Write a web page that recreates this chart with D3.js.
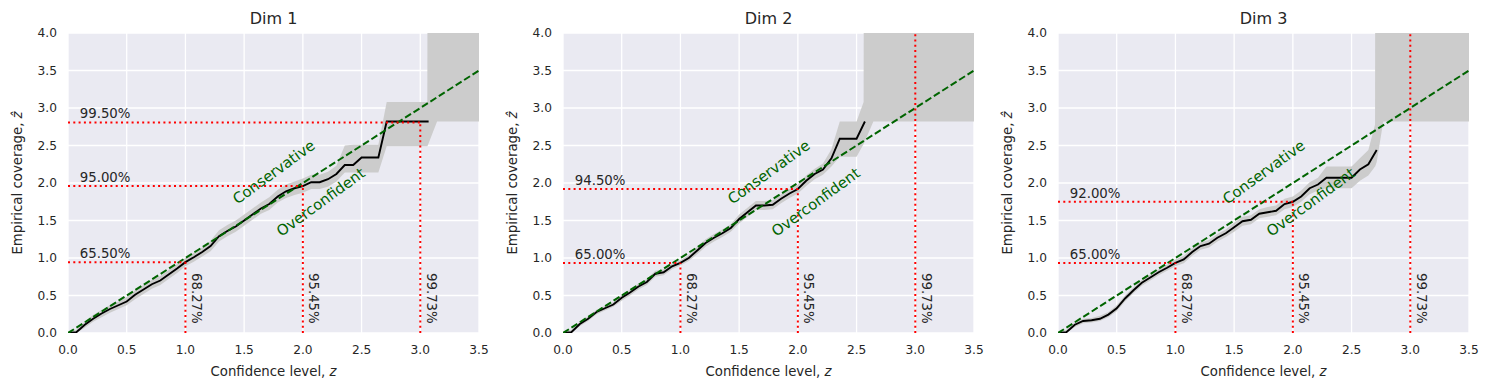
<!DOCTYPE html>
<html><head><meta charset="utf-8">
<script src="https://cdn.jsdelivr.net/npm/d3@7"></script>
<style>body{margin:0;background:#fff} text{font-family:"DejaVu Sans",sans-serif}</style>
</head><body><svg id="c" width="1489" height="390"></svg>
<script>
const panelTitles = ["Dim 1", "Dim 2", "Dim 3"];
const xTicks = [0, 0.5, 1, 1.5, 2, 2.5, 3, 3.5];
const yTicks = [0, 0.5, 1, 1.5, 2, 2.5, 3, 3.5, 4];
const confLevels = [0.000, 0.071, 0.143, 0.214, 0.286, 0.357, 0.429, 0.500, 0.571, 0.643,
  0.714, 0.786, 0.857, 0.929, 1.000, 1.071, 1.143, 1.214, 1.286, 1.357,
  1.429, 1.500, 1.571, 1.643, 1.714, 1.786, 1.857, 1.929, 2.000, 2.071,
  2.143, 2.214, 2.286, 2.357, 2.429, 2.500, 2.571, 2.643, 2.714, 2.786,
  2.857, 2.929, 3.000, 3.071, 3.143, 3.214, 3.286, 3.357, 3.429, 3.500];

// empirical coverage curves
const cov1 = [0, 0.01, 0.11, 0.19, 0.26, 0.32, 0.37, 0.42, 0.51, 0.58, 0.65, 0.70, 0.78, 0.86, 0.945,
  1.01, 1.08, 1.16, 1.29, 1.36, 1.42, 1.50, 1.58, 1.66, 1.72, 1.82, 1.89, 1.93, 1.96, 2.01,
  2.01, 2.05, 2.12, 2.24, 2.24, 2.34, 2.34, 2.34, 2.82, 2.82, 2.82, 2.82, 2.82, 2.82];
const cov2 = [0, 0.01, 0.12, 0.19, 0.28, 0.33, 0.38, 0.47, 0.54, 0.62, 0.68, 0.79, 0.81, 0.89, 0.935,
  1.00, 1.10, 1.20, 1.27, 1.33, 1.40, 1.52, 1.61, 1.70, 1.70, 1.71, 1.79, 1.86, 1.92, 2.03,
  2.12, 2.18, 2.33, 2.59, 2.59, 2.59, 2.82];
const cov3 = [0, 0.01, 0.11, 0.16, 0.17, 0.19, 0.245, 0.33, 0.46, 0.57, 0.67, 0.74, 0.81, 0.87, 0.935,
  0.98, 1.08, 1.16, 1.19, 1.27, 1.33, 1.41, 1.49, 1.51, 1.59, 1.61, 1.63, 1.72, 1.75, 1.82,
  1.93, 1.98, 2.07, 2.07, 2.07, 2.07, 2.18, 2.25, 2.44];

// uncertainty bands
const bandX1 = confLevels.slice(0, 43).concat([3.06, 3.061, 3.143, 3.5]);
const bandLo1 = [0, 0, 0.07, 0.15, 0.21, 0.27, 0.32, 0.37, 0.45, 0.52, 0.59, 0.64, 0.72, 0.80, 0.89,
  0.95, 1.02, 1.09, 1.22, 1.29, 1.35, 1.43, 1.51, 1.59, 1.64, 1.74, 1.80, 1.84, 1.87, 1.92,
  1.92, 1.95, 2.02, 2.14, 2.14, 2.14, 2.14, 2.14,
  2.49, 2.49, 2.49, 2.49, 2.49, 2.49, 2.49, 2.82, 2.82];
const bandHi1 = [0.02, 0.04, 0.15, 0.24, 0.31, 0.37, 0.42, 0.48, 0.57, 0.64, 0.71, 0.76, 0.84, 0.92, 1.00,
  1.07, 1.14, 1.23, 1.37, 1.44, 1.50, 1.58, 1.66, 1.74, 1.81, 1.91, 1.98, 2.02, 2.06, 2.11,
  2.11, 2.15, 2.23, 2.50, 2.51, 2.51, 2.51, 2.51,
  3.08, 3.08, 3.08, 3.08, 3.08, 3.08, 4.2, 4.2, 4.2];
const bandX2 = confLevels.slice(0, 36).concat([2.56, 2.561, 2.643, 3.5]);
const bandLo2 = [0, 0, 0.09, 0.16, 0.25, 0.30, 0.35, 0.43, 0.50, 0.58, 0.64, 0.75, 0.77, 0.85, 0.90,
  0.96, 1.05, 1.15, 1.22, 1.28, 1.35, 1.46, 1.55, 1.64, 1.64, 1.65, 1.73, 1.80, 1.86, 1.96,
  2.05, 2.11, 2.22, 2.35, 2.35, 2.35,
  2.52, 2.52, 2.82, 2.82];
const bandHi2 = [0.02, 0.04, 0.15, 0.22, 0.31, 0.36, 0.41, 0.51, 0.58, 0.66, 0.72, 0.83, 0.85, 0.93, 0.97,
  1.04, 1.15, 1.25, 1.32, 1.38, 1.45, 1.58, 1.67, 1.76, 1.76, 1.77, 1.85, 1.92, 1.98, 2.10,
  2.19, 2.26, 2.45, 2.82, 2.82, 2.82,
  3.08, 4.2, 4.2, 4.2];
const bandX3 = confLevels.slice(0, 38).concat([2.70, 2.701, 2.714, 2.77, 3.5]);
const bandLo3 = [0, 0, 0.08, 0.13, 0.14, 0.16, 0.21, 0.29, 0.42, 0.53, 0.63, 0.70, 0.77, 0.83, 0.89,
  0.93, 1.03, 1.11, 1.14, 1.22, 1.28, 1.35, 1.43, 1.45, 1.53, 1.55, 1.57, 1.65, 1.68, 1.75,
  1.85, 1.90, 1.93, 1.93, 1.93, 1.93, 2.03, 2.10,
  2.22, 2.22, 2.28, 2.82, 2.82];
const bandHi3 = [0.02, 0.04, 0.14, 0.19, 0.20, 0.23, 0.28, 0.37, 0.50, 0.61, 0.71, 0.78, 0.85, 0.91, 0.98,
  1.03, 1.13, 1.21, 1.24, 1.32, 1.38, 1.47, 1.55, 1.57, 1.65, 1.68, 1.70, 1.79, 1.82, 1.90,
  2.01, 2.07, 2.22, 2.22, 2.22, 2.22, 2.33, 2.44,
  2.78, 4.2, 4.2, 4.2, 4.2];

// reference levels
const refZ = [1, 2, 3];
const refLabels = ["68.27%", "95.45%", "99.73%"];
const hitZ1 = [0.9446, 1.96, 2.807];
const hitLabels1 = ["65.50%", "95.00%", "99.50%"];
const hitZ2 = [0.9346, 1.919, Infinity];
const hitLabels2 = ["65.00%", "94.50%", ""];
const hitZ3 = [0.9346, 1.7507, Infinity];
const hitLabels3 = ["65.00%", "92.00%", ""];
const diagonal = [0, 3.5];

const panels = [
  {title: panelTitles[0], cov: cov1, bx: bandX1, lo: bandLo1, hi: bandHi1, hit: hitZ1, hitLab: hitLabels1},
  {title: panelTitles[1], cov: cov2, bx: bandX2, lo: bandLo2, hi: bandHi2, hit: hitZ2, hitLab: hitLabels2},
  {title: panelTitles[2], cov: cov3, bx: bandX3, lo: bandLo3, hi: bandHi3, hit: hitZ3, hitLab: hitLabels3}
];

const svg = d3.select("#c");
const W = 411, topY = 33, H = 300;
const lefts = [68, 563, 1058];
const textCol = "#262626";

panels.forEach((p, i) => {
  const g = svg.append("g").attr("transform", `translate(${lefts[i]},${topY})`);
  const x = d3.scaleLinear().domain([0, 3.5]).range([0, W]);
  const y = d3.scaleLinear().domain([0, 4]).range([H, 0]);
  const cid = "clip" + i;
  g.append("clipPath").attr("id", cid).append("rect").attr("width", W).attr("height", H);
  g.append("rect").attr("width", W).attr("height", H).attr("fill", "#eaeaf2");
  // grid
  g.selectAll(".gx").data(xTicks).join("line").attr("x1", d => x(d)).attr("x2", d => x(d))
    .attr("y1", 0).attr("y2", H).attr("stroke", "#fff").attr("stroke-width", 1.3);
  g.selectAll(".gy").data(yTicks).join("line").attr("y1", d => y(d)).attr("y2", d => y(d))
    .attr("x1", 0).attr("x2", W).attr("stroke", "#fff").attr("stroke-width", 1.3);
  const plot = g.append("g").attr("clip-path", `url(#${cid})`);
  // band
  const bandData = p.bx.map((v, j) => [v, p.lo[j], p.hi[j]]);
  plot.append("path").datum(bandData)
    .attr("d", d3.area().x(d => x(d[0])).y0(d => y(d[1])).y1(d => y(d[2])))
    .attr("fill", "#cccccc");
  // curve
  const curve = p.cov.map((v, j) => [confLevels[j], v]);
  plot.append("path").datum(curve)
    .attr("d", d3.line().x(d => x(d[0])).y(d => y(d[1])))
    .attr("fill", "none").attr("stroke", "#000").attr("stroke-width", 1.9);
  // diagonal
  plot.append("line").attr("x1", x(diagonal[0])).attr("y1", y(diagonal[0]))
    .attr("x2", x(diagonal[1])).attr("y2", y(diagonal[1]))
    .attr("stroke", "#006400").attr("stroke-width", 2).attr("stroke-dasharray", "7,3");
  // red reference lines
  refZ.forEach((rz, j) => {
    const hz = p.hit[j];
    const yv = isFinite(hz) ? hz : 4;
    plot.append("line").attr("x1", x(rz)).attr("x2", x(rz)).attr("y1", y(0)).attr("y2", y(yv))
      .attr("stroke", "red").attr("stroke-width", 2).attr("stroke-dasharray", "2,3.3");
    if (isFinite(hz)) {
      plot.append("line").attr("x1", x(0)).attr("x2", x(rz)).attr("y1", y(hz)).attr("y2", y(hz))
        .attr("stroke", "red").attr("stroke-width", 2).attr("stroke-dasharray", "2,3.3");
      g.append("text").attr("x", x(0.1)).attr("y", y(hz) - 4).attr("font-size", 13.3)
        .attr("fill", textCol).text(p.hitLab[j]);
    }
    g.append("text").attr("transform", `translate(${x(rz) + 6.5},${y(0.8)}) rotate(90)`)
      .attr("font-size", 13.3).attr("fill", textCol).text(refLabels[j]);
  });
  // region labels
  g.append("text").attr("transform", `translate(${x(1.75)},${y(2.15)}) rotate(-36)`)
    .attr("text-anchor", "middle").attr("dominant-baseline", "central")
    .attr("font-size", 14.8).attr("fill", "#006400").text("Conservative");
  g.append("text").attr("transform", `translate(${x(2.15)},${y(1.75)}) rotate(-36)`)
    .attr("text-anchor", "middle").attr("dominant-baseline", "central")
    .attr("font-size", 14.8).attr("fill", "#006400").text("Overconfident");
  // tick labels
  g.selectAll(".xt").data(xTicks).join("text").attr("x", d => x(d)).attr("y", H + 21)
    .attr("text-anchor", "middle").attr("font-size", 12.2).attr("fill", textCol)
    .text(d => d.toFixed(1));
  g.selectAll(".yt").data(yTicks).join("text").attr("x", -11).attr("y", d => y(d))
    .attr("text-anchor", "end").attr("dominant-baseline", "central").attr("font-size", 12.2)
    .attr("fill", textCol).text(d => d.toFixed(1));
  // titles and axis labels
  g.append("text").attr("x", W / 2).attr("y", -9).attr("text-anchor", "middle")
    .attr("font-size", 16).attr("fill", textCol).text(p.title);
  const xl = g.append("text").attr("x", W / 2).attr("y", H + 43).attr("text-anchor", "middle")
    .attr("font-size", 13.3).attr("fill", textCol);
  xl.append("tspan").text("Confidence level, ");
  xl.append("tspan").attr("font-style", "italic").text("z");
  const yl = g.append("text").attr("transform", `translate(-46,${H / 2}) rotate(-90)`)
    .attr("text-anchor", "middle").attr("font-size", 13.3).attr("fill", textCol);
  yl.append("tspan").text("Empirical coverage, ");
  yl.append("tspan").attr("font-style", "italic").text("\u1E91");
});
</script></body></html>
